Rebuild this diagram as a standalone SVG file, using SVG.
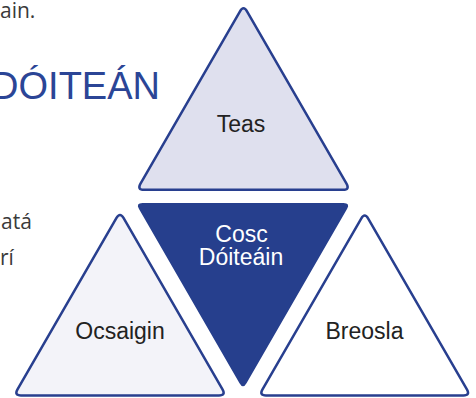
<svg xmlns="http://www.w3.org/2000/svg" width="476" height="398" viewBox="0 0 476 398">
  <style>
    .tri { stroke: #283f8f; stroke-width: 2.5; stroke-linejoin: round; }
    .lbl { font-family: "Liberation Sans", Arial, sans-serif; font-size: 23px; text-anchor: middle; fill: #222222; }
    .body { font-family: "Open Sans", "Liberation Sans", sans-serif; font-size: 21px; fill: #3a3a3a; }
  </style>
  <rect width="476" height="398" fill="#ffffff"/>
  <g id="page-text">
    <text class="body" x="0" y="18">ain.</text>
    <text x="160" y="99" text-anchor="end" font-family="Liberation Sans, Arial, sans-serif" font-size="38" fill="#2b4596">DÓITEÁN</text>
    <text class="body" x="1" y="229">atá</text>
    <text class="body" x="0" y="265">rí</text>
  </g>
  <g id="connectors"></g>
  <g id="teas">
    <path class="tri" fill="#dfe0ee" d="M240,11.36 L140.5,183.74 Q137,189.8 144,189.8 L343,189.8 Q350,189.8 346.5,183.74 L247,11.36 Q243.5,5.3 240,11.36 Z"/>
    <text class="lbl" x="241" y="132">Teas</text>
  </g>
  <g id="cosc-doiteain">
    <path fill="#263f8d" d="M142.5,203 L343.5,203 Q350.5,203 347,209.06 L246.5,383.14 Q243,389.2 239.5,383.14 L139,209.06 Q135.5,203 142.5,203 Z"/>
    <text class="lbl" x="241.5" y="242" style="fill:#ffffff">Cosc</text>
    <text class="lbl" x="241" y="265" style="fill:#ffffff">Dóiteáin</text>
  </g>
  <g id="ocsaigin">
    <path class="tri" fill="#f3f3f9" d="M116.5,217.96 L17.5,389.44 Q14,395.5 21,395.5 L219,395.5 Q226,395.5 222.5,389.44 L123.5,217.96 Q120,211.9 116.5,217.96 Z"/>
    <text class="lbl" x="120" y="339">Ocsaigin</text>
  </g>
  <g id="breosla">
    <path class="tri" fill="#ffffff" d="M361.2,218.56 L262.5,389.44 Q259,395.5 266,395.5 L463.4,395.5 Q470.4,395.5 466.9,389.44 L368.2,218.56 Q364.7,212.5 361.2,218.56 Z"/>
    <text class="lbl" x="364.5" y="339">Breosla</text>
  </g>
</svg>
